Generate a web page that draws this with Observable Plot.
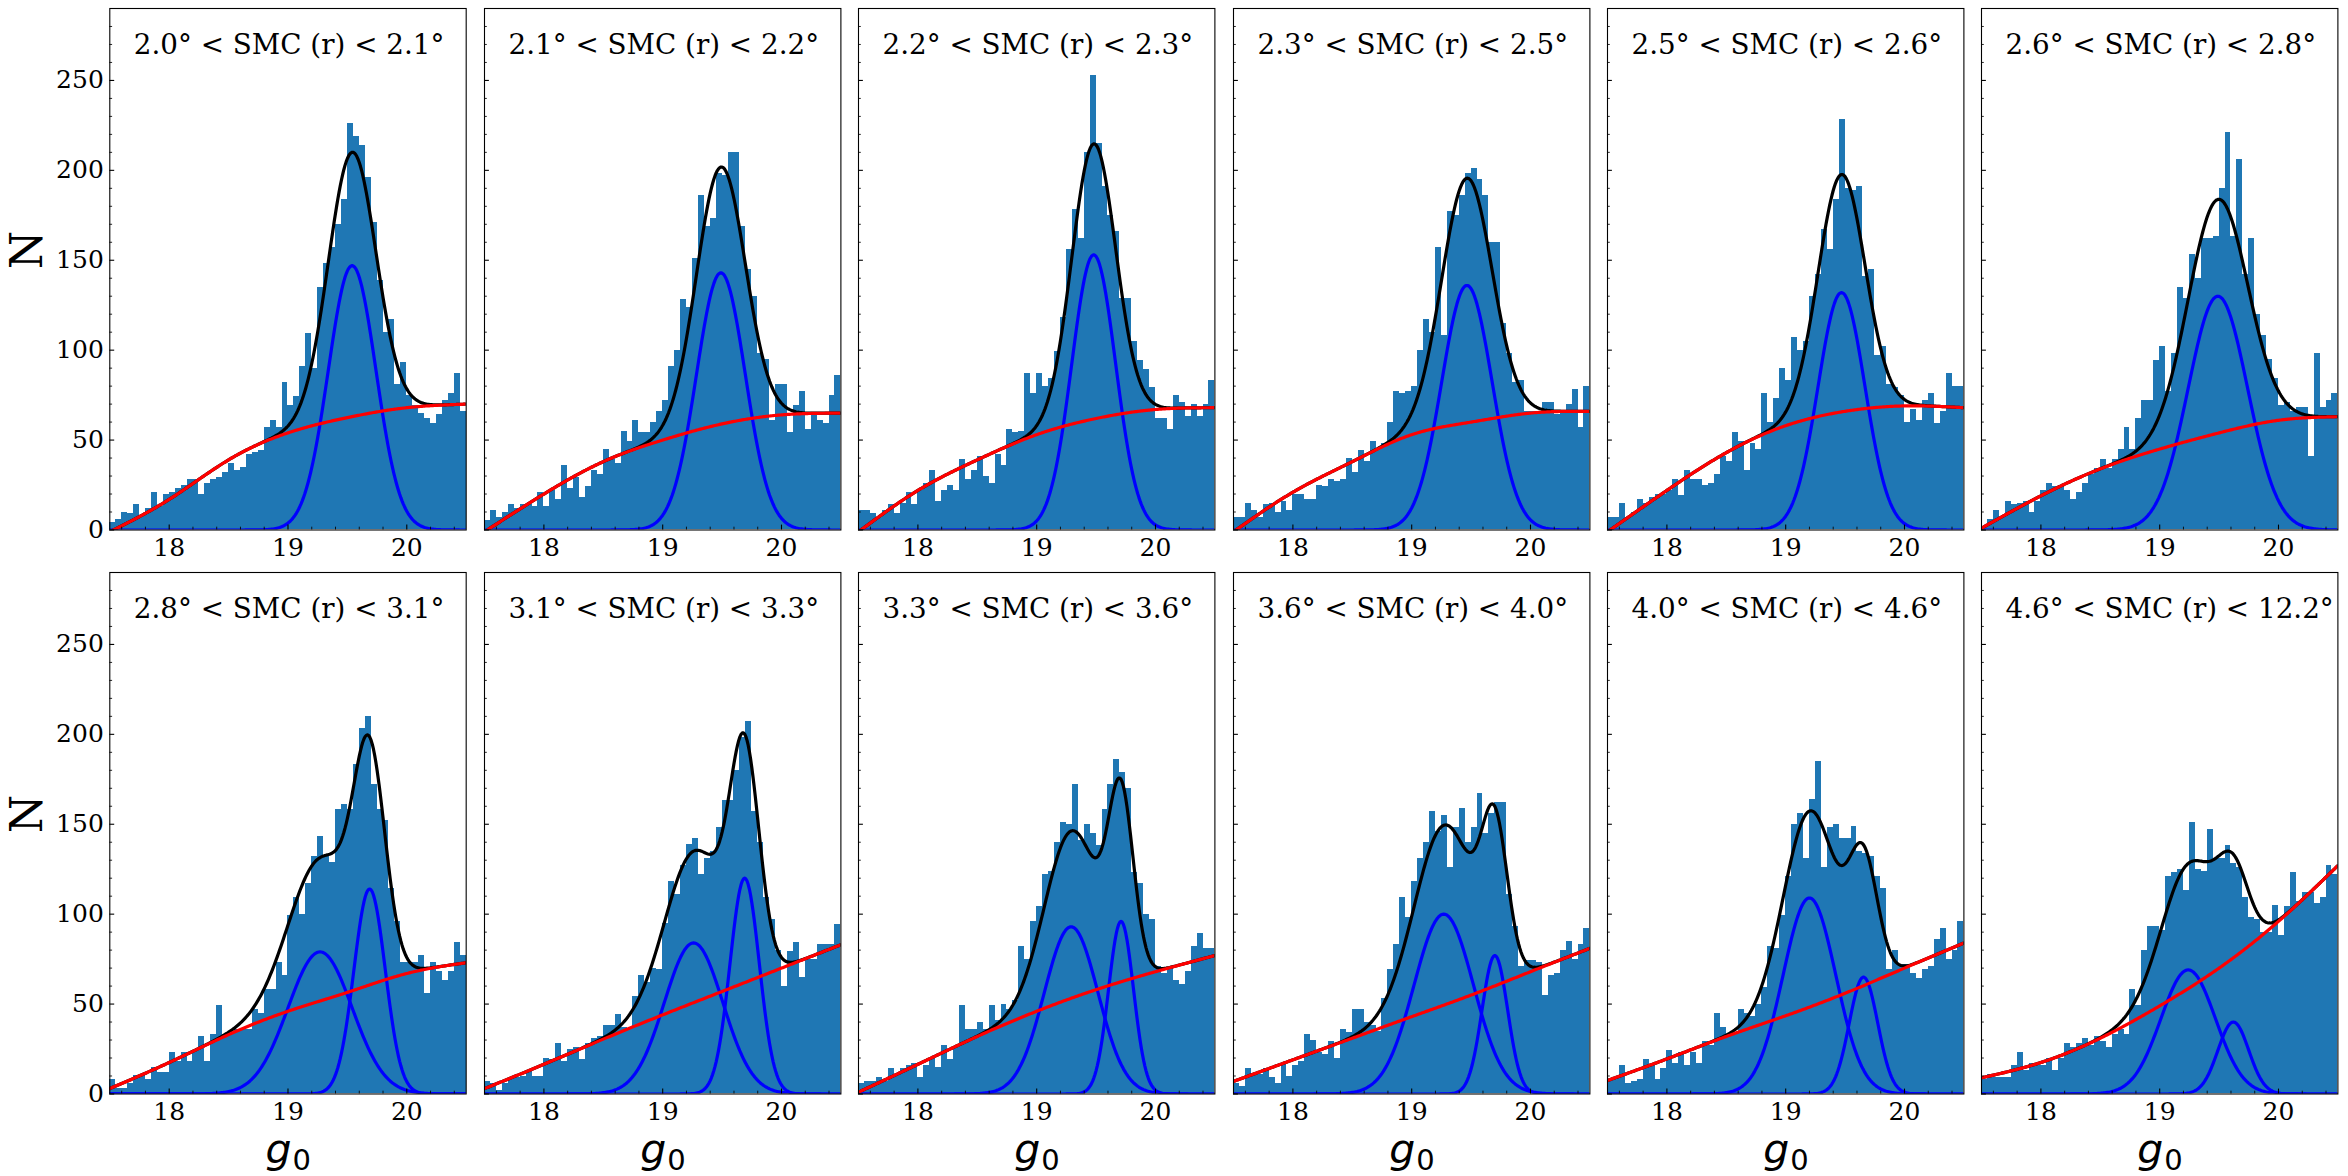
<!DOCTYPE html>
<html>
<head>
<meta charset="utf-8">
<script src="https://cdn.jsdelivr.net/npm/d3@7"></script>
<script src="https://cdn.jsdelivr.net/npm/@observablehq/plot@0.6"></script>
<style>
  html, body { margin: 0; padding: 0; background: #fff; }
  #chart { position: relative; width: 2348px; height: 1176px; overflow: hidden; background: #fff; }
</style>
</head>
<body>
<div id="chart"></div>
<script>
// ---------------- data ----------------
const titles = [
  "2.0° < SMC (r) < 2.1°", "2.1° < SMC (r) < 2.2°", "2.2° < SMC (r) < 2.3°",
  "2.3° < SMC (r) < 2.5°", "2.5° < SMC (r) < 2.6°", "2.6° < SMC (r) < 2.8°",
  "2.8° < SMC (r) < 3.1°", "3.1° < SMC (r) < 3.3°", "3.3° < SMC (r) < 3.6°",
  "3.6° < SMC (r) < 4.0°", "4.0° < SMC (r) < 4.6°", "4.6° < SMC (r) < 12.2°"
];

// histogram bins: 60 bins of width 0.05 mag from g0 = 17.5 to 20.5
const binStart = 17.5, binWidth = 0.05;

const hist1 = [4,6,10,9,14,8,12,21,13,20, 21,23,25,28,28,20,26,28,29,32, 37,33,35,42,43,44,57,61,57,82, 69,74,91,109,90,135,148,157,170,184, 226,219,214,196,171,139,110,117,81,93, 75,69,65,62,59,64,72,76,87,66];
const hist2 = [5,11,7,10,14,12,14,14,13,21, 13,22,17,36,23,29,18,24,33,31, 45,39,37,55,49,61,54,54,60,66, 72,91,100,128,124,151,186,169,173,198, 197,210,210,169,145,130,98,95,61,81, 81,54,69,77,56,64,61,59,75,86];
const hist3 = [11,11,9,7,11,14,9,15,21,14, 22,26,33,16,22,25,22,39,28,33, 41,30,26,42,36,56,54,55,87,76, 87,80,84,99,118,156,178,162,210,253, 215,191,175,166,129,129,105,94,89,79, 62,62,56,75,71,63,70,63,70,83];
const hist4 = [7,7,15,11,7,14,15,10,16,11, 20,20,17,17,25,24,28,27,28,40, 32,44,38,49,45,48,60,77,76,77, 80,100,117,110,157,108,177,175,186,198, 201,195,186,160,160,115,98,82,83,66, 66,66,71,71,64,66,70,78,57,80];
const hist5 = [7,7,15,7,10,17,15,18,20,20, 22,28,19,33,28,28,25,26,31,41, 38,54,49,33,48,45,76,60,73,90, 83,107,100,105,130,142,167,156,184,228, 190,189,191,141,145,97,102,81,79,75, 60,67,61,72,76,59,66,87,80,80];
const hist6 = [2,6,11,7,16,14,15,16,10,16, 22,26,24,25,22,17,21,26,31,34, 39,34,39,45,57,45,62,72,72,94, 102,77,98,135,129,153,140,162,162,163, 190,221,163,206,142,162,120,108,95,84, 69,71,66,68,68,41,98,68,72,76];
const hist7 = [8,3,3,6,10,10,8,15,12,12, 23,18,23,18,24,32,18,33,49,33, 33,36,36,36,47,45,58,58,73,66, 99,109,100,117,132,143,132,129,158,161, 158,183,203,210,172,158,152,114,96,73, 73,73,77,56,73,68,63,68,84,77];
const hist8 = [7,6,2,6,9,9,10,13,10,10, 20,19,28,18,25,26,19,28,31,32, 38,38,44,37,36,54,66,62,70,69, 95,118,111,127,139,142,122,131,135,148, 163,163,180,198,207,157,140,109,97,80, 60,79,84,65,75,75,83,83,83,94];
const hist9 = [6,7,7,9,7,14,11,14,16,17, 9,16,20,15,27,19,26,49,36,36, 40,36,49,41,50,47,52,82,75,96, 104,122,124,140,151,150,172,141,150,145, 138,158,172,186,179,170,123,117,100,97, 71,67,70,63,61,68,82,89,81,81];
const hist10 = [6,4,14,11,11,14,9,6,17,10, 16,18,33,30,23,22,29,20,36,34, 47,47,40,38,35,53,69,83,109,98, 118,131,140,157,146,155,126,148,159,140, 148,167,145,156,162,162,111,93,71,74, 74,73,55,66,67,80,85,75,83,92];
const hist11 = [8,9,16,6,7,8,19,16,8,14, 24,17,23,16,23,17,29,27,45,37, 33,33,47,45,43,50,59,82,81,99, 121,150,156,131,164,185,126,148,150,142, 142,149,135,134,132,121,114,69,80,72, 72,67,64,69,71,86,92,75,80,96];
const hist12 = [8,11,9,9,9,16,23,13,17,16, 16,20,13,20,28,26,28,31,27,32, 29,26,33,36,33,58,49,80,93,93, 91,121,123,125,113,151,125,124,147,131, 131,138,128,126,109,98,97,90,90,105, 88,104,123,107,112,112,106,109,127,122];

// fitted Gaussian components (blue): [amplitude, centre g0, sigma]
const gauss1 = [[147, 19.54, 0.200]];
const gauss2 = [[143, 19.49, 0.205]];
const gauss3 = [[153, 19.48, 0.184]];
const gauss4 = [[136, 19.465, 0.212]];
const gauss5 = [[132, 19.47, 0.197]];
const gauss6 = [[130, 19.49, 0.250]];
const gauss7 = [[79, 19.27, 0.270], [114, 19.687, 0.132]];
const gauss8 = [[84, 19.26, 0.246], [120, 19.69, 0.123]];
const gauss9 = [[93, 19.29, 0.226], [96, 19.71, 0.105]];
const gauss10 = [[100, 19.27, 0.250], [77, 19.70, 0.108]];
const gauss11 = [[109, 19.20, 0.222], [65, 19.655, 0.120]];
const gauss12 = [[69, 19.24, 0.230], [40, 19.62, 0.130]];

// background (red) read at these g0 values
const bgKnots = [17.5, 18, 18.5, 19, 19.5, 20, 20.5];
const bg1 = [-1, 17, 39, 54, 62.5, 68, 70];
const bg2 = [-1, 20, 38, 50, 59, 64, 65];
const bg3 = [-1, 22, 39, 53, 62, 67, 68];
const bg4 = [-1, 21, 38, 53, 60, 65, 66];
const bg5 = [-1, 22, 43, 58, 66, 69, 68];
const bg6 = [1, 19, 34, 45, 54, 61, 63];
const bg7 = [3, 17.5, 33, 46, 56.5, 67, 73];
const bg8 = [3, 16.5, 30.5, 44, 57, 70, 83];
const bg9 = [1, 16.5, 32, 46, 58, 68, 77];
const bg10 = [7, 19, 31, 43, 55, 68, 81];
const bg11 = [7.5, 19.5, 32, 43.5, 56, 70, 84];
const bg12 = [9, 17.5, 31, 49, 70, 96, 127];

// tick values
const xMajor = [18, 19, 20];
const xMinor = [17.6, 17.8, 18.2, 18.4, 18.6, 18.8, 19.2, 19.4, 19.6, 19.8, 20.2, 20.4];
const yMajor = [0, 50, 100, 150, 200, 250];
const yMinor = [10, 20, 30, 40, 60, 70, 80, 90, 110, 120, 130, 140, 160, 170, 180, 190, 210, 220, 230, 240, 260, 270, 280];

const hists = [hist1, hist2, hist3, hist4, hist5, hist6, hist7, hist8, hist9, hist10, hist11, hist12];
const gausses = [gauss1, gauss2, gauss3, gauss4, gauss5, gauss6, gauss7, gauss8, gauss9, gauss10, gauss11, gauss12];
const bgs = [bg1, bg2, bg3, bg4, bg5, bg6, bg7, bg8, bg9, bg10, bg11, bg12];

// ---------------- model evaluation ----------------
function naturalSpline(xs, ys) {
  const n = xs.length, h = [], M = new Array(n).fill(0);
  for (let i = 0; i < n - 1; i++) h.push(xs[i + 1] - xs[i]);
  const a = [], b = [], c = [], d = [];
  for (let i = 1; i < n - 1; i++) {
    a.push(h[i - 1]); b.push(2 * (h[i - 1] + h[i])); c.push(h[i]);
    d.push(6 * ((ys[i + 1] - ys[i]) / h[i] - (ys[i] - ys[i - 1]) / h[i - 1]));
  }
  const m = b.length;
  for (let i = 1; i < m; i++) { const w = a[i] / b[i - 1]; b[i] -= w * c[i - 1]; d[i] -= w * d[i - 1]; }
  const sol = new Array(m);
  sol[m - 1] = d[m - 1] / b[m - 1];
  for (let i = m - 2; i >= 0; i--) sol[i] = (d[i] - c[i] * sol[i + 1]) / b[i];
  for (let i = 0; i < m; i++) M[i + 1] = sol[i];
  return x => {
    let i = Math.min(n - 2, Math.max(0, d3.bisectRight(xs, x) - 1));
    const hi = h[i], A = xs[i + 1] - x, B = x - xs[i];
    return M[i] * A * A * A / (6 * hi) + M[i + 1] * B * B * B / (6 * hi)
      + (ys[i] / hi - M[i] * hi / 6) * A + (ys[i + 1] / hi - M[i + 1] * hi / 6) * B;
  };
}
const gaussian = ([amp, mu, sig]) => g => amp * Math.exp(-((g - mu) ** 2) / (2 * sig * sig));
const gGrid = d3.range(0, 301).map(i => 17.5 + i * 0.01);

// ---------------- layout ----------------
const W = 356.4, H = 521.5;
const colLeft = c => 109.3 + 374.4 * c;
const rowTop = [7.5, 571.7];
const chart = document.getElementById("chart");
const BLUE = "#1f77b4";
const LW = 3.2;
const SVGNS = "http://www.w3.org/2000/svg";

hists.forEach((counts, p) => {
  const r = Math.floor(p / 6), c = p % 6;
  const mL = c === 0 ? colLeft(0) : 8, mR = 8, mT = 7, mB = r === 0 ? 40 : 80;

  const bins = counts.map((n, i) => ({x0: binStart + i * binWidth, x1: binStart + (i + 1) * binWidth, n}));
  const bgF = naturalSpline(bgKnots, bgs[p]);
  const comps = gausses[p].map(gaussian);
  const bgLine = gGrid.map(g => ({g, v: bgF(g)}));
  const compLines = comps.map(f => gGrid.map(g => ({g, v: f(g)})));
  const total = gGrid.map((g, i) => ({g, v: bgLine[i].v + d3.sum(compLines, cl => cl[i].v)}));

  const marks = [
    Plot.rectY(bins, {x1: "x0", x2: "x1", y: "n", fill: BLUE, shapeRendering: "crispEdges"}),
    Plot.line(total, {x: "g", y: "v", stroke: "black", strokeWidth: LW, clip: true}),
    ...compLines.map(cl => Plot.line(cl, {x: "g", y: "v", stroke: "#0000ff", strokeWidth: LW, clip: true})),
    Plot.line(bgLine, {x: "g", y: "v", stroke: "#ff0000", strokeWidth: LW, clip: true}),
    Plot.frame({stroke: "black", strokeWidth: 1.1}),
    Plot.tickX(xMajor, {x: d => d, insetTop: H - 4.9, stroke: "black", strokeWidth: 1.1}),
    Plot.tickX(xMinor, {x: d => d, insetTop: H - 2.8, stroke: "black", strokeWidth: 0.85}),
    Plot.tickY(yMajor, {y: d => d, insetRight: W - 4.9, stroke: "black", strokeWidth: 1.1}),
    Plot.tickY(yMinor, {y: d => d, insetRight: W - 2.8, stroke: "black", strokeWidth: 0.85}),
    Plot.text(xMajor, {x: d => d, text: d => String(d), frameAnchor: "bottom", dy: 8, lineAnchor: "top",
      fontSize: 25, fontFamily: "DejaVu Serif", fill: "black"}),
    Plot.text([titles[p]], {frameAnchor: "top-left", dx: 24, dy: 25.5, textAnchor: "start", lineAnchor: "top",
      fontSize: 27.8, fontFamily: "DejaVu Serif", fill: "black"})
  ];
  if (c === 0) {
    marks.push(Plot.text(yMajor, {y: d => d, text: d => String(d), frameAnchor: "left", dx: -6, textAnchor: "end",
      lineAnchor: "middle", fontSize: 25, fontFamily: "DejaVu Serif", fill: "black"}));
    marks.push(Plot.text(["N"], {frameAnchor: "left", dx: 27 - colLeft(0), rotate: -90, lineAnchor: "middle",
      fontSize: 44, fontFamily: "DejaVu Serif", fill: "black"}));
  }
  if (r === 1) {
    marks.push(Plot.text(["g0"], {frameAnchor: "bottom", dx: -22.5, dy: 69, textAnchor: "start", lineAnchor: "bottom",
      fontSize: 41, fontFamily: "DejaVu Sans", fill: "black"}));
  }

  const svg = Plot.plot({
    width: W + mL + mR, height: H + mT + mB,
    marginLeft: mL, marginRight: mR, marginTop: mT, marginBottom: mB,
    x: {domain: [17.5, 20.5], axis: null, label: null},
    y: {domain: [0, 290], axis: null, label: null},
    style: {background: "transparent", overflow: "visible", fontFamily: "DejaVu Serif", fontSize: "25px", color: "black"},
    marks
  });

  // typeset the x label as italic g with an upright subscript 0 inside one text element
  svg.querySelectorAll("text").forEach(t => {
    if (t.textContent === "g0") {
      t.textContent = "";
      const tg = document.createElementNS(SVGNS, "tspan");
      tg.setAttribute("font-style", "italic");
      tg.textContent = "g";
      const t0 = document.createElementNS(SVGNS, "tspan");
      t0.setAttribute("font-size", "29");
      t0.setAttribute("dy", "7");
      t0.setAttribute("dx", "1");
      t0.textContent = "0";
      t.appendChild(tg);
      t.appendChild(t0);
    }
  });

  svg.style.position = "absolute";
  svg.style.left = (colLeft(c) - mL) + "px";
  svg.style.top = (rowTop[r] - mT) + "px";
  svg.style.maxWidth = "none";
  chart.appendChild(svg);
});
</script>
</body>
</html>
